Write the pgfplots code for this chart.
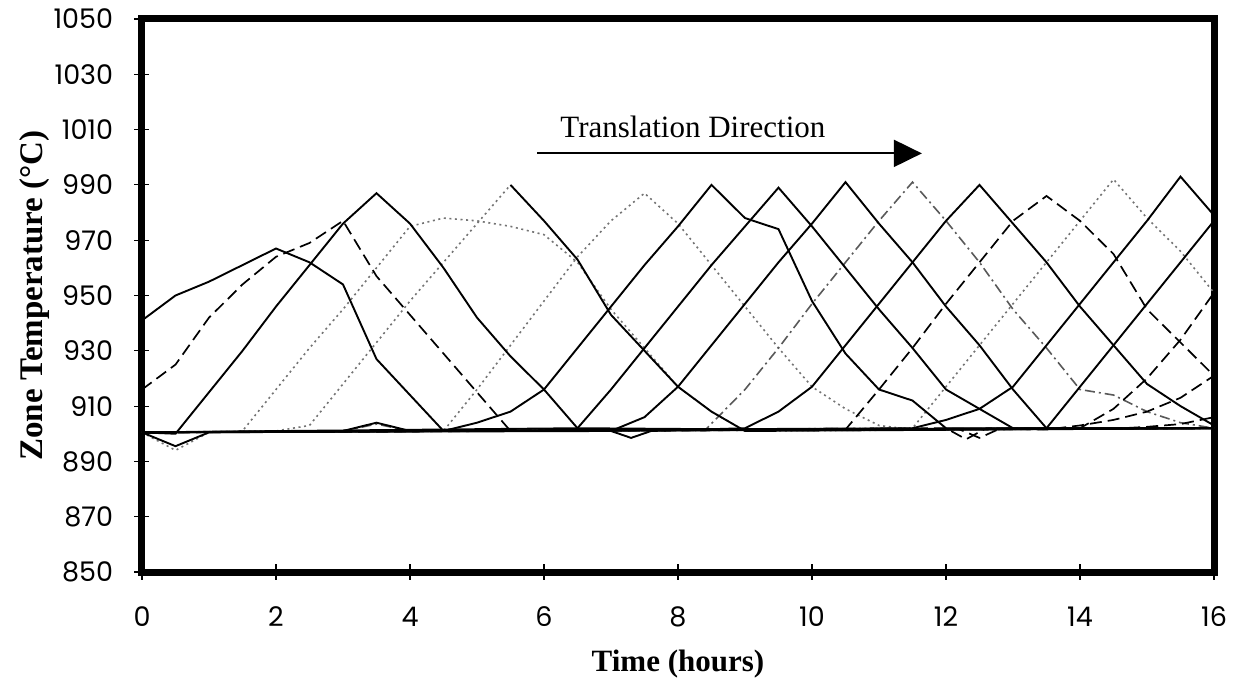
\documentclass[border=0pt]{standalone}
\usepackage{pgfplots}
\pgfplotsset{compat=1.18}
\usepackage{fontspec}
\setmainfont{Liberation Serif}
\newfontfamily\tickfont{Poppins}
\usetikzlibrary{arrows.meta}
\tikzset{
  sol/.style={black, line width=0.95pt},
  dsh/.style={black, line width=0.85pt, dash pattern=on 6pt off 3pt},
  dtt/.style={black!55, line width=0.8pt, dash pattern=on 1pt off 1.8pt},
  dd/.style={black!65, line width=0.8pt, dash pattern=on 5pt off 2pt on 1pt off 2pt},
}
\begin{document}
\begin{tikzpicture}
\begin{axis}[
  scale only axis, width=536pt, height=276.5pt,
  xmin=0, xmax=16, ymin=850, ymax=1050,
  xtick={0,2,...,16}, ytick={850,870,...,1050},
  xtick pos=bottom, ytick pos=left,
  axis line style={line width=3.5pt},
  tick style={black, line width=0.6pt},
  major tick length=7.5pt, tick align=center,
  /pgf/number format/assume math mode=true,
  /pgf/number format/1000 sep={},
  ticklabel style={font=\tickfont\fontsize{13.5}{15}\selectfont},
  xticklabel style={anchor=base, yshift=-23.5pt},
  yticklabel style={anchor=east, inner sep=0pt, xshift=-10.5pt},
  xlabel={Time (hours)}, ylabel={Zone Temperature (°C)},
  xlabel style={font=\bfseries\fontsize{15.5}{18}\selectfont, at={(axis description cs:0.5,-0.166)}, anchor=center},
  ylabel style={font=\bfseries\fontsize{16.5}{19}\selectfont, at={(axis description cs:-0.0998,0.5)}, anchor=center},
  no markers,
]
% dotted / gray series first
\addplot[dtt] coordinates {(0,900.5)(0.5,894)(1,900.5)(1.5,901)(2,916)(2.5,931)(3,945)(3.5,960)(4,975)(4.5,978)(5,977)(5.5,975)(6,972)(6.5,962)(7,945)(7.5,931)(8,917)(8.5,908)(9,901)(16,902)};
\addplot[dtt] coordinates {(0,900.5)(2,901)(2.5,903)(3,918)(3.5,933)(4,948)(4.5,962)(5,976)(5.5,990)};
\addplot[dtt] coordinates {(0,900.5)(4.5,901)(5,916)(5.5,932)(6,948)(6.5,964)(7,977)(7.5,987)(8,976)(8.5,961)(9,946)(9.5,931)(10,917)(10.5,909)(11,903)(11.5,901.5)(16,902)};
\addplot[dd] coordinates {(0,900.5)(3,901)(3.5,903.5)(4,901)(8.4,901.2)(9,916)(9.5,931)(10,947)(10.5,962)(11,977)(11.5,991)(12,977)(12.5,962)(13,945)(13.5,931)(14,916)(14.5,914)(15,908)(15.5,904)(16,902)};
\addplot[dtt] coordinates {(0,900.5)(11.5,902)(12,917)(12.5,932)(13,947)(13.5,962)(14,977)(14.5,992)(15,978)(15.5,966)(16,951)};
% dashed series
\addplot[dsh] coordinates {(0,916)(0.5,925)(1,942)(1.5,954)(2,964)(2.5,969)(3,977)(3.5,957)(4,943)(4.5,929)(5,915)(5.5,901)(16,902)};
\addplot[dsh] coordinates {(0,900.5)(10.5,901.5)(11,916)(11.5,931)(12,947)(12.5,962)(13,977)(13.5,986)(14,977)(14.5,965)(15,945)(15.5,933)(16,921)};
\addplot[dsh] coordinates {(0,900.5)(14,902)(14.5,909)(15,920)(15.5,934)(16,951)};
\addplot[dsh] coordinates {(0,900.5)(12,902)(12.3,898)(12.6,902)(13.5,901.5)(14,903)(14.5,905)(15,908)(15.5,913)(16,921)};
\addplot[dsh] coordinates {(0,900.5)(12.2,901.6)(12.5,898.5)(12.8,901.8)(14.5,901.8)(15,902.5)(15.5,903.5)(16,906)};
% solid series
\addplot[sol] coordinates {(0,941)(0.5,950)(1,955)(1.5,961)(2,967)(2.5,962)(3,954)(3.5,927)(4,914)(4.5,901)(8,901.2)(12,901.6)(16,902)};
\addplot[sol] coordinates {(0,900.5)(0.5,900)(1,915)(1.5,930)(2,946)(2.5,961)(3,976)(3.5,987)(4,976)(4.5,960)(5,942)(5.5,928)(6,916)(6.5,902)(10,901.4)(16,902)};
\addplot[sol] coordinates {(5.5,990)(6,977)(6.5,963)(7,943)(7.5,930)(8,917)(8.5,908)(9,901)(16,902)};
\addplot[sol] coordinates {(0,900.5)(0.5,895.5)(1,900.5)(4.5,901)(5,904)(5.5,908)(6,916)(6.5,931)(7,946)(7.5,961)(8,975)(8.5,990)(9,978)(9.5,974)(10,948)(10.5,929)(11,916)(11.5,912)(12,902)(16,902)};
\addplot[sol] coordinates {(0,900.5)(6.5,902)(7,916)(7.5,931)(8,946)(8.5,961)(9,975)(9.5,989)(10,975)(10.5,960)(11,945)(11.5,931)(12,916)(12.5,909)(13,902)(16,902)};
\addplot[sol] coordinates {(0,900.5)(3,901)(3.5,904)(4,901)(7,901)(7.5,906)(8,917)(8.5,932)(9,947)(9.5,962)(10,976)(10.5,991)(11,976)(11.5,962)(12,946)(12.5,932)(13,916)(13.5,902)(16,902)};
\addplot[sol] coordinates {(0,900.5)(7,901)(7.3,898.5)(7.6,901)(9,902)(9.5,908)(10,917)(10.5,932)(11,947)(11.5,962)(12,977)(12.5,990)(13,976)(13.5,962)(14,946)(14.5,932)(15,918)(15.5,910)(16,903)};
\addplot[sol] coordinates {(0,900.5)(11.5,902)(12,905)(12.5,909)(13,917)(13.5,932)(14,947)(14.5,962)(15,977)(15.5,993)(16,979)};
\addplot[sol] coordinates {(0,900.5)(13.5,902)(14,917)(14.5,932)(15,947)(15.5,962)(16,977)};
% annotation
\draw[line width=1pt, -{Triangle[length=14pt, width=13.5pt]}] (axis cs:5.9,1001.4) -- (axis cs:11.64,1001.4);
\node[anchor=base west, font=\fontsize{15.5}{18}\selectfont, inner sep=0pt] at (axis cs:6.24,1007) {Translation Direction};
\end{axis}
\path (current axis.south west) ++(-71pt,-55.5pt) rectangle ++(621.5pt,341.5pt);
\end{tikzpicture}
\end{document}
